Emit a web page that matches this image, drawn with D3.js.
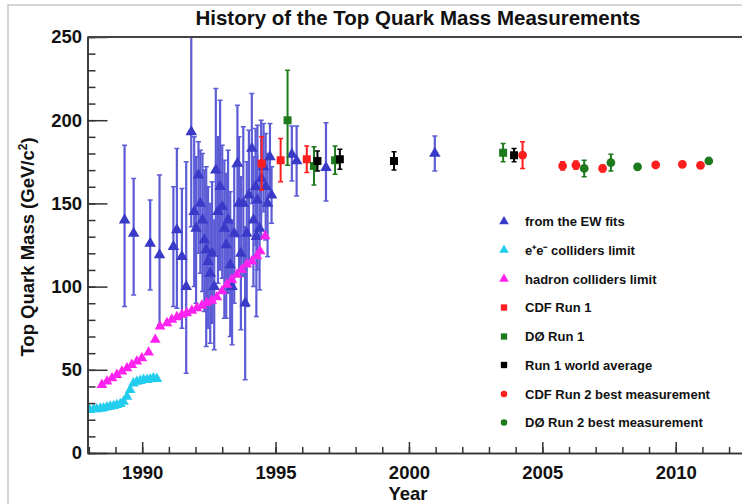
<!DOCTYPE html>
<html>
<head>
<meta charset="utf-8">
<script src="https://cdn.jsdelivr.net/npm/d3@7"></script>
<style>
  body { margin: 0; background: #fff; }
  svg { display: block; font-family: "Liberation Sans", Arial, sans-serif; }
</style>
</head>
<body>
<svg></svg>
<script>
const WIDTH = 742;
const HEIGHT = 504;

// electroweak fit predictions (blue triangles)
const ewYear = [1989.34, 1989.68, 1990.30, 1990.65, 1991.17, 1991.30, 1991.49, 1991.65, 1991.84,
  1991.95, 1992.02, 1992.11, 1992.18, 1992.26, 1992.33, 1992.40, 1992.47, 1992.55, 1992.62,
  1992.70, 1992.76, 1992.84, 1992.92, 1993.00, 1993.08, 1993.15, 1993.22, 1993.30, 1993.37,
  1993.45, 1993.57, 1993.63, 1993.70, 1993.79, 1993.86, 1993.92, 1994.00, 1994.11, 1994.17,
  1994.25, 1994.28, 1994.32, 1994.40, 1994.46, 1994.55, 1994.63, 1994.70, 1994.79, 1994.85,
  1995.61, 1995.79, 1996.89, 2000.97];
const ewMass = [140, 132, 126, 119, 124, 134, 118, 100, 193,
  145, 135, 167, 150, 140, 128, 122, 115, 108, 120,
  100, 170, 145, 160, 148, 135, 125, 140, 113, 100,
  132, 174, 150, 120, 150, 90, 132, 155, 183, 140,
  160, 130, 152, 135, 165, 172, 160, 150, 178, 155,
  179.5, 175.5, 171.5, 180];
const ewLow = [88, 95, 98, 77, 88, 87, 75, 48, 136,
  100, 90, 120, 108, 97, 85, 64, 75, 66, 78,
  62, 120, 102, 110, 105, 81, 81, 96, 70, 65,
  90, 130, 110, 74, 106, 44, 88, 116, 150, 100,
  125, 82, 110, 98, 130, 145, 128, 118, 154, 138,
  163.5, 154.5, 151.5, 169.5];
const ewHigh = [185, 165, 152, 167, 160, 183, 159, 175, 250,
  190, 178, 187, 182, 180, 170, 172, 160, 150, 163,
  140, 219, 190, 212, 185, 176, 168, 182, 157, 140,
  172, 209, 190, 166, 196, 136, 175, 194, 216, 178,
  195, 178, 197, 172, 200, 198, 192, 180, 198, 172,
  196.5, 196.5, 198.5, 190.5];

// e+e- colliders limit
const eeYear = [1988.03, 1988.18, 1988.30, 1988.43, 1988.55, 1988.68, 1988.80, 1988.93, 1989.05,
  1989.18, 1989.30, 1989.43, 1989.55, 1989.67, 1989.80, 1989.93, 1990.05, 1990.18, 1990.30,
  1990.42, 1990.55];
const eeMass = [25.9, 26.3, 26.3, 26.7, 26.9, 27.5, 27.9, 28.3, 28.9,
  29.5, 30.9, 33.9, 37.9, 41.9, 42.9, 43.4, 44, 44, 44.4,
  45, 44.6];

// hadron colliders limit
const hadYear = [1988.49, 1988.68, 1988.87, 1989.05, 1989.24, 1989.43, 1989.61, 1989.80, 1989.99,
  1990.24, 1990.49, 1990.67, 1990.93, 1991.11, 1991.30, 1991.49, 1991.67, 1991.86, 1992.05,
  1992.24, 1992.42, 1992.61, 1992.80, 1992.99, 1993.17, 1993.36, 1993.55, 1993.73, 1993.92,
  1994.11, 1994.30, 1994.42, 1994.61];
const hadMass = [41, 43, 45, 47, 49, 51, 53, 55, 57,
  60.4, 68.1, 76.1, 78.1, 80.1, 81.7, 83.1, 84.1, 85.5, 87.1,
  88.6, 90.2, 91.6, 93.6, 97.2, 101.2, 104.2, 107.2, 110.2, 113.3,
  115.2, 118.3, 121.3, 130.3];

// CDF Run 1
const cdf1Year = [1994.48, 1995.19, 1996.17];
const cdf1Mass = [174, 176, 176.5];
const cdf1Low = [158, 163, 168.5];
const cdf1High = [190, 189, 184.5];

// D0 Run 1 (last point is the 2004 reanalysis)
const d01Year = [1995.45, 1996.44, 1997.23, 2003.53];
const d01Mass = [200, 172.5, 176, 180.5];
const d01Low = [173, 161, 167.5, 175];
const d01High = [230, 184, 184.5, 186];

// Run 1 world average
const avgYear = [1996.57, 1997.41, 1999.44, 2003.94];
const avgMass = [175.5, 176.5, 175.5, 179];
const avgLow = [169.5, 170.5, 170, 175];
const avgHigh = [181.5, 182.5, 181, 183];

// CDF Run 2 best measurement
const cdf2Year = [2004.26, 2005.76, 2006.26, 2007.26, 2009.25, 2010.25, 2010.93];
const cdf2Mass = [179, 172.5, 173, 171, 173.1, 173.5, 172.9];
const cdf2Low = [171, 170, 170.5, 169, 172, 172.5, 172];
const cdf2High = [187, 175, 175.5, 173, 174.2, 174.5, 173.8];

// D0 Run 2 best measurement
const d02Year = [2006.57, 2007.57, 2008.57, 2011.24];
const d02Mass = [171, 174.5, 172, 175.5];
const d02Low = [166, 169.5, 171, 174.5];
const d02High = [176, 179.5, 173, 176.5];

const xMajor = [1990, 1995, 2000, 2005, 2010];
const yMajor = [0, 50, 100, 150, 200, 250];

const legendLabels = ["from the EW fits", "e\u207Ae\u207B colliders limit", "hadron colliders limit",
  "CDF Run 1", "D\u00D8 Run 1", "Run 1 world average", "CDF Run 2 best measurement",
  "D\u00D8 Run 2 best measurement"];

const BLUE = "#3a3ac8";
const BLUE_BAR = "#5c5cd6";
const CYAN = "#22cdee";
const MAGENTA = "#ff22ee";
const RED = "#ff1e1e";
const GREEN = "#1d7a1d";
const BLACK = "#000";

let x, y;

function setUpScales() {
  x = d3.scaleLinear().domain([1987.95, 2012.5]).range([87.5, 742.4]);
  y = d3.scaleLinear().domain([0, 250]).range([453, 37]);
}

function styleAxis(g, size) {
  g.attr("font-family", null).attr("font-size", null);
  g.selectAll("line, path").attr("stroke", "#333").attr("stroke-width", 1.5);
  g.selectAll("text")
    .attr("fill", "#111")
    .attr("font-size", size)
    .attr("font-weight", "bold");
}

function setUpAxes($svg) {
  // minor x ticks every year
  $svg.append("g")
    .attr("transform", `translate(0,${y(0)})`)
    .call(d3.axisBottom(x).tickValues(d3.range(1988, 2013)).tickSize(-6).tickSizeOuter(0).tickFormat(""))
    .call(g => styleAxis(g, 18));

  $svg.append("g")
    .attr("transform", `translate(0,${y(0)})`)
    .call(d3.axisBottom(x).tickValues(xMajor).tickSize(-11).tickSizeOuter(0).tickPadding(13).tickFormat(d3.format("d")))
    .call(g => styleAxis(g, 18.5));

  $svg.append("g")
    .attr("transform", `translate(${x.range()[0]},0)`)
    .call(d3.axisLeft(y).tickValues(d3.range(0, 251, 10)).tickSize(-8).tickSizeOuter(0).tickFormat(""))
    .call(g => styleAxis(g, 18));

  $svg.append("g")
    .attr("transform", `translate(${x.range()[0]},0)`)
    .call(d3.axisLeft(y).tickValues(yMajor).tickSize(-20).tickSizeOuter(0).tickPadding(5.5))
    .call(g => styleAxis(g, 18.5));

  // top edge of the frame
  $svg.append("line")
    .attr("x1", x.range()[0]).attr("x2", WIDTH)
    .attr("y1", y(250)).attr("y2", y(250))
    .attr("stroke", "#444").attr("stroke-width", 1.8);
}

function drawErrorBars(g, xs, lows, highs, color, width) {
  const idx = d3.range(xs.length);
  g.append("g").selectAll("line.bar").data(idx).join("line")
    .attr("x1", i => x(xs[i])).attr("x2", i => x(xs[i]))
    .attr("y1", i => y(lows[i])).attr("y2", i => y(highs[i]))
    .attr("stroke", color).attr("stroke-width", width);
  [lows, highs].forEach(ends => {
    g.append("g").selectAll("line").data(idx).join("line")
      .attr("x1", i => x(xs[i]) - 2.5).attr("x2", i => x(xs[i]) + 2.5)
      .attr("y1", i => y(ends[i])).attr("y2", i => y(ends[i]))
      .attr("stroke", color).attr("stroke-width", 1.5);
  });
}

function drawMarkers(g, xs, ys, type, size, color) {
  const sym = d3.symbol(type, size);
  g.append("g").selectAll("path").data(d3.range(xs.length)).join("path")
    .attr("d", sym)
    .attr("transform", i => `translate(${x(xs[i])},${y(ys[i])})`)
    .attr("fill", color);
}

function drawData($svg) {
  $svg.append("clipPath").attr("id", "plot-clip")
    .append("rect")
    .attr("x", x.range()[0]).attr("y", y(250))
    .attr("width", WIDTH - x.range()[0]).attr("height", y(0) - y(250));

  const g = $svg.append("g").attr("clip-path", "url(#plot-clip)");

  drawErrorBars(g, ewYear, ewLow, ewHigh, BLUE_BAR, 2.2);
  drawMarkers(g, ewYear, ewMass, d3.symbolTriangle, 58, BLUE);

  drawMarkers(g, eeYear, eeMass, d3.symbolTriangle, 50, CYAN);
  drawMarkers(g, hadYear, hadMass, d3.symbolTriangle, 50, MAGENTA);

  drawErrorBars(g, cdf1Year, cdf1Low, cdf1High, RED, 2);
  drawMarkers(g, cdf1Year, cdf1Mass, d3.symbolSquare, 64, RED);

  drawErrorBars(g, d01Year, d01Low, d01High, GREEN, 2);
  drawMarkers(g, d01Year, d01Mass, d3.symbolSquare, 64, GREEN);

  drawErrorBars(g, avgYear, avgLow, avgHigh, BLACK, 2);
  drawMarkers(g, avgYear, avgMass, d3.symbolSquare, 64, BLACK);

  drawErrorBars(g, cdf2Year, cdf2Low, cdf2High, RED, 2);
  drawMarkers(g, cdf2Year, cdf2Mass, d3.symbolCircle, 60, RED);

  drawErrorBars(g, d02Year, d02Low, d02High, GREEN, 2);
  drawMarkers(g, d02Year, d02Mass, d3.symbolCircle, 60, GREEN);
}

function drawLegend($svg) {
  const symbols = [
    [d3.symbolTriangle, 40, BLUE], [d3.symbolTriangle, 40, CYAN], [d3.symbolTriangle, 40, MAGENTA],
    [d3.symbolSquare, 40, RED], [d3.symbolSquare, 40, GREEN], [d3.symbolSquare, 40, BLACK],
    [d3.symbolCircle, 34, RED], [d3.symbolCircle, 34, GREEN]
  ];
  const rowY = [221.5, 250, 279, 307.5, 336.5, 365, 394, 422.5];

  const lg = $svg.append("g");
  legendLabels.forEach((label, i) => {
    lg.append("path")
      .attr("d", d3.symbol(symbols[i][0], symbols[i][1]))
      .attr("transform", `translate(504,${rowY[i]})`)
      .attr("fill", symbols[i][2]);
    lg.append("text")
      .attr("x", 525).attr("y", rowY[i] + 4.6)
      .attr("font-size", 13).attr("font-weight", "bold").attr("fill", "#111")
      .text(label);
  });
}

function drawTitles($svg) {
  $svg.append("text")
    .attr("x", 418).attr("y", 25)
    .attr("text-anchor", "middle")
    .attr("font-size", 20.5).attr("font-weight", "bold").attr("fill", "#111")
    .text("History of the Top Quark Mass Measurements");

  $svg.append("text")
    .attr("x", 408).attr("y", 500)
    .attr("text-anchor", "middle")
    .attr("font-size", 18.5).attr("font-weight", "bold").attr("fill", "#111")
    .text("Year");

  const yt = $svg.append("text")
    .attr("transform", "translate(33.5,247) rotate(-90)")
    .attr("text-anchor", "middle")
    .attr("font-size", 18.5).attr("font-weight", "bold").attr("fill", "#111");
  yt.append("tspan").text("Top Quark Mass (GeV/c");
  yt.append("tspan").attr("font-size", 12).attr("dy", -7).text("2");
  yt.append("tspan").attr("dy", 7).text(")");
}

function main() {
  const $svg = d3.select("svg").attr("width", WIDTH).attr("height", HEIGHT);

  // faint border of the original canvas
  $svg.append("rect")
    .attr("x", 8).attr("y", 5).attr("width", WIDTH).attr("height", HEIGHT)
    .attr("fill", "none").attr("stroke", "#c8c8c8").attr("stroke-width", 1.5);

  setUpScales();
  drawData($svg);
  setUpAxes($svg);
  drawLegend($svg);
  drawTitles($svg);
}

main();
</script>
</body>
</html>
